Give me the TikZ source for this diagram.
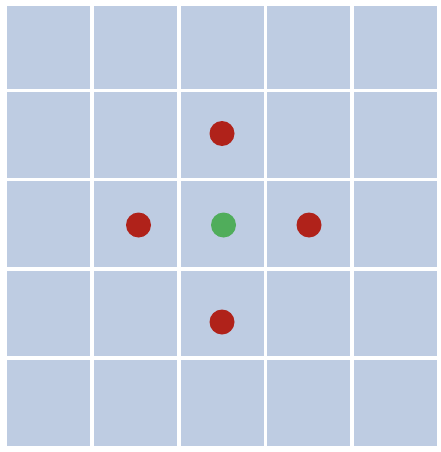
\documentclass[tikz,border=0pt]{standalone}
\definecolor{cellblue}{RGB}{190,204,226}
\definecolor{dotred}{RGB}{176,34,26}
\definecolor{dotgreen}{RGB}{80,173,91}
\begin{document}
\begin{tikzpicture}[x=1pt,y=-1pt,
  cell/.style={fill=cellblue,draw=none},
  reddot/.style={circle,fill=dotred,draw=none,minimum size=25pt,inner sep=0pt},
  greendot/.style={circle,fill=dotgreen,draw=none,minimum size=25pt,inner sep=0pt}]
\fill[white] (0,0) rectangle (440,452);
\useasboundingbox (0,0) rectangle (440,452);
\foreach \cx in {7,94,180.5,267,353.5}{
  \foreach \ry/\rh in {6/82.5,92/85.5,181/85.5,270.5/85.5,360/86}{
    \fill[cell] (\cx,\ry) rectangle ++(83,\rh);
  }
}
\node[reddot] (top) at (222,133.5) {};
\node[reddot] (left) at (138.5,225) {};
\node[greendot] (center) at (223.5,225) {};
\node[reddot] (right) at (309,225) {};
\node[reddot] (bottom) at (222,322) {};
\end{tikzpicture}
\end{document}
